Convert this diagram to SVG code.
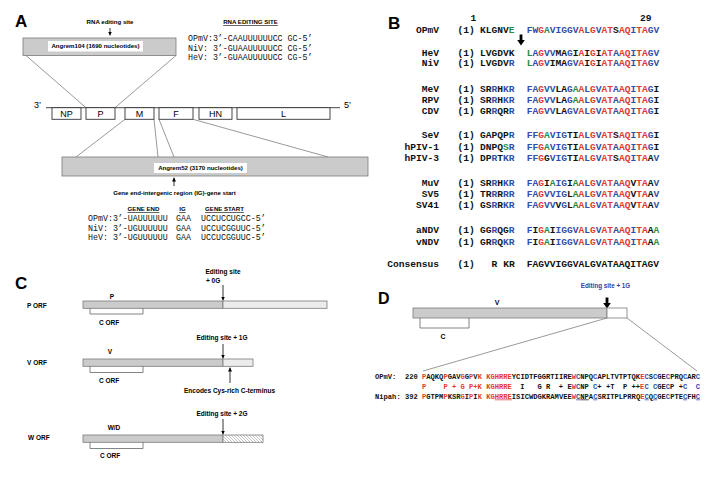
<svg xmlns="http://www.w3.org/2000/svg" width="723" height="489" viewBox="0 0 723 489">
<defs>
<style>
.lbl{font-family:"Liberation Sans",Arial,sans-serif;font-weight:bold;fill:#000}
.pl{font-size:17px}
.sm{font-size:6.1px}
.c6{font-size:6.5px}
.gn{font-family:"Liberation Sans",Arial,sans-serif;font-size:9px;fill:#000}
.mono{font-family:"Liberation Mono","Courier New",monospace;fill:#111}
.sqA{font-size:8.3px}
.sqB{font-size:9.6px;font-weight:bold}
.sqD{font-size:7.13px;font-weight:bold;white-space:pre}
.r{fill:#e23a2e}.b{fill:#2f4fa8}.g{fill:#2b8c3f}.k{fill:#111}
.u{text-decoration:underline}
.gray{fill:#cbcbcb;stroke:#7a7a7a;stroke-width:0.8}
.light{fill:#ececec;stroke:#7a7a7a;stroke-width:0.8}
.white{fill:#fff;stroke:#7a7a7a;stroke-width:0.8}
.hatch{fill:url(#hatch);stroke:#7a7a7a;stroke-width:0.8}
.wlab{fill:#fff}
.gene{fill:#fff;stroke:#333;stroke-width:0.9}
.ln{stroke:#555;stroke-width:0.6;fill:none}
.br{stroke:#666;stroke-width:0.8;fill:none}
.arr{stroke:#000;stroke-width:0.8;fill:none;marker-end:url(#ah)}
</style>
<marker id="ah" viewBox="0 0 6 6" refX="6" refY="3" markerWidth="4" markerHeight="4" orient="auto" markerUnits="userSpaceOnUse"><path d="M0,0 L6,3 L0,6 z" fill="#000"/></marker>
<pattern id="hatch" width="3" height="3" patternUnits="userSpaceOnUse"><rect width="3" height="3" fill="#fff"/><path d="M0,0 L3,3 M-1,2 L1,4 M2,-1 L4,1" stroke="#888" stroke-width="0.5"/></pattern>
<path id="big" d="M-1.4,0 H1.4 V5.5 H3.8 L0,11 L-3.8,5.5 H-1.4 Z" fill="#000"/>
</defs>
<rect width="723" height="489" fill="#fff"/>

<!-- connectors -->
<g id="connectors">
<line class="ln" x1="26" y1="55.5" x2="86" y2="107.7"/>
<line class="ln" x1="176" y1="55.5" x2="115" y2="107.7"/>
<line class="ln" x1="125" y1="119.3" x2="76" y2="157"/>
<line class="ln" x1="154" y1="119.3" x2="158" y2="157"/>
<line class="ln" x1="159" y1="119.3" x2="174" y2="157"/>
<line class="ln" x1="193" y1="119.3" x2="328" y2="157"/>
<line class="arr" x1="110" y1="28" x2="110" y2="35.5"/>
<line class="arr" x1="174" y1="186" x2="174" y2="177.5"/>
<line class="arr" x1="223" y1="285" x2="223" y2="300.5"/>
<line class="arr" x1="223" y1="344" x2="223" y2="358.5"/>
<line class="arr" x1="230" y1="383" x2="230" y2="367.5"/>
<line class="arr" x1="223" y1="419" x2="223" y2="434.5"/>
<line class="ln" x1="607" y1="318" x2="423" y2="371"/>
<line class="ln" x1="627" y1="318" x2="697" y2="371"/>
<use href="#big" x="521" y="34.5"/>
<use href="#big" x="607" y="297.5"/>
</g>

<!-- Panel A -->
<g id="panelA">
<text class="lbl pl" x="15" y="27">A</text>
<text class="lbl sm" x="110" y="24" text-anchor="middle">RNA editing site</text>
<g id="angrem104">
<rect class="gray" x="23" y="38" width="153" height="17.5"/>
<rect class="wlab" x="48" y="41" width="95" height="10.5"/>
<text class="lbl sm" x="95.5" y="48.4" text-anchor="middle">Angrem104 (1690 nucleotides)</text>
</g>
<text class="lbl sm u" x="250.5" y="24" text-anchor="middle">RNA EDITING SITE</text>
<g class="mono sqA">
<text x="188" y="40.5">OPmV:3’-CAAUUUUUUCC GC-5’</text>
<text x="188" y="50.5">NiV: 3’-GUAAUUUUUCC CG-5’</text>
<text x="188" y="60">HeV: 3’-GUAAUUUUUCC CG-5’</text>
</g>
<g id="genome">
<text class="gn" x="34" y="108">3’</text>
<text class="gn" x="344" y="108">5’</text>
<line x1="46" y1="107.7" x2="340" y2="107.7" stroke="#333" stroke-width="0.9"/>
<g id="gNP"><rect class="gene" x="52" y="107.7" width="29" height="11.6"/><text class="gn" x="66.5" y="116.8" text-anchor="middle">NP</text></g>
<g id="gP"><rect class="gene" x="86" y="107.7" width="29" height="11.6"/><text class="gn" x="100.5" y="116.8" text-anchor="middle">P</text></g>
<g id="gM"><rect class="gene" x="125" y="107.7" width="29" height="11.6"/><text class="gn" x="139.5" y="116.8" text-anchor="middle">M</text></g>
<g id="gF"><rect class="gene" x="159" y="107.7" width="34" height="11.6"/><text class="gn" x="176" y="116.8" text-anchor="middle">F</text></g>
<g id="gHN"><rect class="gene" x="199" y="107.7" width="33" height="11.6"/><text class="gn" x="215.5" y="116.8" text-anchor="middle">HN</text></g>
<g id="gL"><rect class="gene" x="237" y="107.7" width="93" height="11.6"/><text class="gn" x="283.5" y="116.8" text-anchor="middle">L</text></g>
</g>
<g id="angrem52">
<rect class="gray" x="62" y="157" width="306" height="19"/>
<rect class="wlab" x="154" y="163" width="93" height="10"/>
<text class="lbl sm" x="200.5" y="170.3" text-anchor="middle">Angrem52 (3170 nucleotides)</text>
</g>
<text class="lbl sm" x="174.5" y="195" text-anchor="middle">Gene end-intergenic region (IG)-gene start</text>
<text class="lbl sm u" x="143.5" y="211" text-anchor="middle">GENE END</text>
<text class="lbl sm u" x="182.5" y="211" text-anchor="middle">IG</text>
<text class="lbl sm u" x="224.5" y="211" text-anchor="middle">GENE START</text>
<g class="mono sqA">
<text x="88" y="221">OPmV:3’-UAUUUUUU</text><text x="176" y="221">GAA</text><text x="201" y="221">UCCUCCUGCC-5’</text>
<text x="88" y="230.5">NiV: 3’-UGUUUUUU</text><text x="176" y="230.5">GAA</text><text x="201" y="230.5">UCCUCGGUUC-5’</text>
<text x="88" y="240">HeV: 3’-UGUUUUUU</text><text x="176" y="240">GAA</text><text x="201" y="240">UCCUCGGUUC-5’</text>
</g>
</g>

<!-- Panel B -->
<g id="panelB" class="mono sqB">
<text class="lbl pl" x="388" y="29">B</text>
<text x="470.5" y="21">1</text>
<text x="640" y="21">29</text>
<g id="rOPmV"><text x="439" y="33" text-anchor="end">OPmV</text><text x="457.5" y="33">(1)</text><text x="480" y="33"><tspan class="k">KLGNV</tspan><tspan class="g">E</tspan></text><text x="526.7" y="33"><tspan class="b">FW</tspan><tspan class="r">G</tspan><tspan class="g">A</tspan><tspan class="b">VIGGV</tspan><tspan class="r">A</tspan><tspan class="b">L</tspan><tspan class="r">G</tspan><tspan class="b">V</tspan><tspan class="r">AT</tspan><tspan class="k">S</tspan><tspan class="r">AQ</tspan><tspan class="b">I</tspan><tspan class="r">TA</tspan><tspan class="b">GV</tspan></text></g>
<g id="rHeV"><text x="439" y="56" text-anchor="end">HeV</text><text x="457.5" y="56">(1)</text><text x="480" y="56">LVGDVK</text><text x="526.7" y="56"><tspan class="g">L</tspan><tspan class="b">A</tspan><tspan class="r">G</tspan><tspan class="b">VV</tspan><tspan class="k">MA</tspan><tspan class="b">G</tspan><tspan class="k">I</tspan><tspan class="r">A</tspan><tspan class="k">I</tspan><tspan class="r">G</tspan><tspan class="k">I</tspan><tspan class="r">AT</tspan><tspan class="b">A</tspan><tspan class="r">AQ</tspan><tspan class="b">I</tspan><tspan class="r">TA</tspan><tspan class="b">GV</tspan></text></g>
<g id="rNiV"><text x="439" y="66.3" text-anchor="end">NiV</text><text x="457.5" y="66.3">(1)</text><text x="480" y="66.3"><tspan class="k">LVGDV</tspan><tspan class="b">R</tspan></text><text x="526.7" y="66.3"><tspan class="g">L</tspan><tspan class="b">A</tspan><tspan class="r">G</tspan><tspan class="b">V</tspan><tspan class="k">IMA</tspan><tspan class="b">GV</tspan><tspan class="r">A</tspan><tspan class="k">I</tspan><tspan class="r">G</tspan><tspan class="k">I</tspan><tspan class="r">AT</tspan><tspan class="b">A</tspan><tspan class="r">AQ</tspan><tspan class="b">I</tspan><tspan class="r">TA</tspan><tspan class="b">GV</tspan></text></g>
<g id="rMeV"><text x="439" y="91.5" text-anchor="end">MeV</text><text x="457.5" y="91.5">(1)</text><text x="480" y="91.5"><tspan class="k">SR</tspan><tspan class="b">R</tspan><tspan class="k">H</tspan><tspan class="b">KR</tspan></text><text x="526.7" y="91.5"><tspan class="b">FA</tspan><tspan class="r">G</tspan><tspan class="b">VV</tspan><tspan class="k">LA</tspan><tspan class="b">G</tspan><tspan class="g">A</tspan><tspan class="r">A</tspan><tspan class="b">L</tspan><tspan class="r">G</tspan><tspan class="b">V</tspan><tspan class="r">AT</tspan><tspan class="b">A</tspan><tspan class="r">AQ</tspan><tspan class="b">I</tspan><tspan class="r">TA</tspan><tspan class="b">G</tspan><tspan class="k">I</tspan></text></g>
<g id="rRPV"><text x="439" y="102.8" text-anchor="end">RPV</text><text x="457.5" y="102.8">(1)</text><text x="480" y="102.8"><tspan class="k">SR</tspan><tspan class="b">R</tspan><tspan class="k">H</tspan><tspan class="b">KR</tspan></text><text x="526.7" y="102.8"><tspan class="b">FA</tspan><tspan class="r">G</tspan><tspan class="b">VV</tspan><tspan class="k">LA</tspan><tspan class="b">G</tspan><tspan class="g">A</tspan><tspan class="r">A</tspan><tspan class="b">L</tspan><tspan class="r">G</tspan><tspan class="b">V</tspan><tspan class="r">AT</tspan><tspan class="b">A</tspan><tspan class="r">AQ</tspan><tspan class="b">I</tspan><tspan class="r">TA</tspan><tspan class="b">G</tspan><tspan class="k">I</tspan></text></g>
<g id="rCDV"><text x="439" y="114" text-anchor="end">CDV</text><text x="457.5" y="114">(1)</text><text x="480" y="114"><tspan class="k">GR</tspan><tspan class="b">R</tspan><tspan class="k">QR</tspan><tspan class="b">R</tspan></text><text x="526.7" y="114"><tspan class="b">FA</tspan><tspan class="r">G</tspan><tspan class="b">VV</tspan><tspan class="k">LA</tspan><tspan class="b">GV</tspan><tspan class="r">A</tspan><tspan class="b">L</tspan><tspan class="r">G</tspan><tspan class="b">V</tspan><tspan class="r">AT</tspan><tspan class="b">A</tspan><tspan class="r">AQ</tspan><tspan class="b">I</tspan><tspan class="r">TA</tspan><tspan class="b">G</tspan><tspan class="k">I</tspan></text></g>
<g id="rSeV"><text x="439" y="138.2" text-anchor="end">SeV</text><text x="457.5" y="138.2">(1)</text><text x="480" y="138.2"><tspan class="k">GAPQP</tspan><tspan class="b">R</tspan></text><text x="526.7" y="138.2"><tspan class="b">FF</tspan><tspan class="r">G</tspan><tspan class="g">A</tspan><tspan class="b">VIG</tspan><tspan class="k">TI</tspan><tspan class="r">A</tspan><tspan class="b">L</tspan><tspan class="r">G</tspan><tspan class="b">V</tspan><tspan class="r">AT</tspan><tspan class="k">S</tspan><tspan class="r">AQ</tspan><tspan class="b">I</tspan><tspan class="r">TA</tspan><tspan class="b">G</tspan><tspan class="k">I</tspan></text></g>
<g id="rhPIV1"><text x="439" y="149.5" text-anchor="end">hPIV-1</text><text x="457.5" y="149.5">(1)</text><text x="480" y="149.5"><tspan class="k">DNPQ</tspan><tspan class="g">S</tspan><tspan class="b">R</tspan></text><text x="526.7" y="149.5"><tspan class="b">FF</tspan><tspan class="r">G</tspan><tspan class="g">A</tspan><tspan class="b">VIG</tspan><tspan class="k">TI</tspan><tspan class="r">A</tspan><tspan class="b">L</tspan><tspan class="r">G</tspan><tspan class="b">V</tspan><tspan class="r">AT</tspan><tspan class="b">A</tspan><tspan class="r">AQ</tspan><tspan class="b">I</tspan><tspan class="r">TA</tspan><tspan class="b">G</tspan><tspan class="k">I</tspan></text></g>
<g id="rhPIV3"><text x="439" y="160.8" text-anchor="end">hPIV-3</text><text x="457.5" y="160.8">(1)</text><text x="480" y="160.8"><tspan class="k">DP</tspan><tspan class="b">R</tspan><tspan class="k">T</tspan><tspan class="b">KR</tspan></text><text x="526.7" y="160.8"><tspan class="b">FF</tspan><tspan class="r">G</tspan><tspan class="k">G</tspan><tspan class="b">VIG</tspan><tspan class="k">TI</tspan><tspan class="r">A</tspan><tspan class="b">L</tspan><tspan class="r">G</tspan><tspan class="b">V</tspan><tspan class="r">AT</tspan><tspan class="k">S</tspan><tspan class="r">AQ</tspan><tspan class="b">I</tspan><tspan class="r">TA</tspan><tspan class="k">A</tspan><tspan class="b">V</tspan></text></g>
<g id="rMuV"><text x="439" y="185.5" text-anchor="end">MuV</text><text x="457.5" y="185.5">(1)</text><text x="480" y="185.5"><tspan class="k">SR</tspan><tspan class="b">R</tspan><tspan class="k">H</tspan><tspan class="b">KR</tspan></text><text x="526.7" y="185.5"><tspan class="b">FA</tspan><tspan class="r">G</tspan><tspan class="k">I</tspan><tspan class="g">A</tspan><tspan class="b">IG</tspan><tspan class="k">I</tspan><tspan class="g">A</tspan><tspan class="r">A</tspan><tspan class="b">L</tspan><tspan class="r">G</tspan><tspan class="b">V</tspan><tspan class="r">AT</tspan><tspan class="b">A</tspan><tspan class="r">AQ</tspan><tspan class="k">V</tspan><tspan class="r">TA</tspan><tspan class="k">A</tspan><tspan class="b">V</tspan></text></g>
<g id="rSV5"><text x="439" y="196.8" text-anchor="end">SV5</text><text x="457.5" y="196.8">(1)</text><text x="480" y="196.8"><tspan class="k">TR</tspan><tspan class="b">R</tspan><tspan class="k">R</tspan><tspan class="b">RR</tspan></text><text x="526.7" y="196.8"><tspan class="b">FA</tspan><tspan class="r">G</tspan><tspan class="b">VVIG</tspan><tspan class="k">L</tspan><tspan class="g">A</tspan><tspan class="r">A</tspan><tspan class="b">L</tspan><tspan class="r">G</tspan><tspan class="b">V</tspan><tspan class="r">AT</tspan><tspan class="b">A</tspan><tspan class="r">AQ</tspan><tspan class="k">V</tspan><tspan class="r">TA</tspan><tspan class="k">A</tspan><tspan class="b">V</tspan></text></g>
<g id="rSV41"><text x="439" y="208" text-anchor="end">SV41</text><text x="457.5" y="208">(1)</text><text x="480" y="208"><tspan class="k">GS</tspan><tspan class="b">R</tspan><tspan class="k">R</tspan><tspan class="b">KR</tspan></text><text x="526.7" y="208"><tspan class="b">FA</tspan><tspan class="r">G</tspan><tspan class="b">VV</tspan><tspan class="k">V</tspan><tspan class="b">G</tspan><tspan class="k">L</tspan><tspan class="g">A</tspan><tspan class="r">A</tspan><tspan class="b">L</tspan><tspan class="r">G</tspan><tspan class="b">V</tspan><tspan class="r">AT</tspan><tspan class="b">A</tspan><tspan class="r">AQ</tspan><tspan class="k">V</tspan><tspan class="r">TA</tspan><tspan class="k">A</tspan><tspan class="b">V</tspan></text></g>
<g id="raNDV"><text x="439" y="233.2" text-anchor="end">aNDV</text><text x="457.5" y="233.2">(1)</text><text x="480" y="233.2"><tspan class="k">GG</tspan><tspan class="b">R</tspan><tspan class="k">QG</tspan><tspan class="b">R</tspan></text><text x="526.7" y="233.2"><tspan class="b">F</tspan><tspan class="k">I</tspan><tspan class="r">G</tspan><tspan class="g">A</tspan><tspan class="k">I</tspan><tspan class="b">IGGV</tspan><tspan class="r">A</tspan><tspan class="b">L</tspan><tspan class="r">G</tspan><tspan class="b">V</tspan><tspan class="r">AT</tspan><tspan class="b">A</tspan><tspan class="r">AQ</tspan><tspan class="b">I</tspan><tspan class="r">TA</tspan><tspan class="k">A</tspan><tspan class="g">A</tspan></text></g>
<g id="rvNDV"><text x="439" y="244.8" text-anchor="end">vNDV</text><text x="457.5" y="244.8">(1)</text><text x="480" y="244.8"><tspan class="k">GR</tspan><tspan class="b">R</tspan><tspan class="k">Q</tspan><tspan class="b">KR</tspan></text><text x="526.7" y="244.8"><tspan class="b">F</tspan><tspan class="k">I</tspan><tspan class="r">G</tspan><tspan class="g">A</tspan><tspan class="k">I</tspan><tspan class="b">IGGV</tspan><tspan class="r">A</tspan><tspan class="b">L</tspan><tspan class="r">G</tspan><tspan class="b">V</tspan><tspan class="r">AT</tspan><tspan class="b">A</tspan><tspan class="r">AQ</tspan><tspan class="b">I</tspan><tspan class="r">TA</tspan><tspan class="k">A</tspan><tspan class="g">A</tspan></text></g>
<g id="rCons"><text x="439" y="266.5" text-anchor="end">Consensus</text><text x="457.5" y="266.5">(1)</text><text x="491.6" y="266.5">R</text><text x="503.2" y="266.5">KR</text><text x="526.7" y="266.5">FAGVVIGGVALGVATAAQITAGV</text></g>
</g>

<!-- Panel C -->
<g id="panelC">
<text class="lbl pl" x="15" y="289">C</text>
<text class="lbl c6" x="223" y="274" text-anchor="middle">Editing site</text>
<text class="lbl c6" x="206" y="283">+ 0G</text>
<g id="pORF">
<text class="lbl c6" x="27" y="307.5">P ORF</text>
<text class="lbl c6" x="112" y="299" text-anchor="middle">P</text>
<rect class="gray" x="83" y="301" width="140" height="7.3"/>
<rect class="light" x="223" y="301" width="104" height="7.3"/>
<path class="br" d="M90,308.3 V314 H143 V308.3"/>
<text class="lbl c6" x="109" y="325" text-anchor="middle">C ORF</text>
</g>
<text class="lbl c6" x="222" y="340" text-anchor="middle">Editing site + 1G</text>
<g id="vORF">
<text class="lbl c6" x="27" y="365">V ORF</text>
<text class="lbl c6" x="110" y="354" text-anchor="middle">V</text>
<rect class="gray" x="83" y="359" width="140" height="7.3"/>
<rect class="light" x="223" y="359" width="30" height="7.3"/>
<path class="br" d="M90,366.3 V372.5 H143 V366.3"/>
<text class="lbl c6" x="109" y="382.5" text-anchor="middle">C ORF</text>
</g>
<text class="lbl c6" x="229.5" y="392.5" text-anchor="middle">Encodes Cys-rich C-terminus</text>
<text class="lbl c6" x="222" y="415.5" text-anchor="middle">Editing site + 2G</text>
<g id="wORF">
<text class="lbl c6" x="28" y="440">W ORF</text>
<text class="lbl c6" x="114" y="429.5" text-anchor="middle">W/D</text>
<rect class="gray" x="83" y="435" width="140" height="7.3"/>
<rect class="hatch" x="223" y="435" width="40" height="7.3"/>
<path class="br" d="M90,442.3 V448.5 H143 V442.3"/>
<text class="lbl c6" x="110" y="458" text-anchor="middle">C ORF</text>
</g>
</g>

<!-- Panel D -->
<g id="panelD">
<text class="lbl" style="font-size:16px" x="378" y="303.5">D</text>
<text class="lbl" style="font-size:6.3px;fill:#3b3b9b" x="605.5" y="288" text-anchor="middle">Editing site + 1G</text>
<g id="dBar">
<text class="lbl" style="font-size:7px" x="497" y="305" text-anchor="middle">V</text>
<rect class="gray" x="413" y="308" width="194" height="10"/>
<rect class="white" x="607" y="308" width="20" height="10"/>
<path class="br" d="M420,318 V328 H469 V318"/>
<text class="lbl" style="font-size:7px" x="443" y="339" text-anchor="middle">C</text>
</g>
<g id="dSeq" class="mono sqD">
<text x="375" y="378.5">OPmV:</text><text x="405" y="378.5">220</text>
<text x="422" y="378.5" xml:space="preserve"><tspan class="r">P</tspan><tspan class="k">AQKQ</tspan><tspan class="r">P</tspan><tspan class="k">GAV</tspan><tspan class="r">G</tspan><tspan class="k">G</tspan><tspan class="r">P</tspan><tspan class="k">V</tspan><tspan class="r">K KGHRRE</tspan><tspan class="k">YCIDTFGGRTIIRE</tspan><tspan class="r">W</tspan><tspan class="b">C</tspan><tspan class="k">NPQ</tspan><tspan class="b">C</tspan><tspan class="k">APLTVTPTQK</tspan><tspan class="r">E</tspan><tspan class="b">C</tspan><tspan class="k">S</tspan><tspan class="b">C</tspan><tspan class="k">GE</tspan><tspan class="b">C</tspan><tspan class="k">PRQ</tspan><tspan class="b">C</tspan><tspan class="k">AR</tspan><tspan class="b">C</tspan></text>
<text x="422" y="388.5" xml:space="preserve"><tspan class="r">P    P + G P+K KGHRRE</tspan><tspan class="k">  I   G R  + E</tspan><tspan class="r">W</tspan><tspan class="b">C</tspan><tspan class="k">NP </tspan><tspan class="b">C</tspan><tspan class="k">+ +T  P ++</tspan><tspan class="r">E</tspan><tspan class="b">C</tspan><tspan class="k"> </tspan><tspan class="b">C</tspan><tspan class="k">GE</tspan><tspan class="b">C</tspan><tspan class="k">P +</tspan><tspan class="b">C</tspan><tspan class="k">  </tspan><tspan class="b">C</tspan></text>
<text x="375" y="398.5">Nipah:</text><text x="405" y="398.5">392</text>
<text x="422" y="398.5" xml:space="preserve"><tspan class="r">P</tspan><tspan class="k">GTPM</tspan><tspan class="r">P</tspan><tspan class="k">KSR</tspan><tspan class="r">G</tspan><tspan class="k">I</tspan><tspan class="r">P</tspan><tspan class="k">I</tspan><tspan class="r">K KG</tspan><tspan class="r u">HRRE</tspan><tspan class="k">ISICWDGKRAMVEE</tspan><tspan class="r">W</tspan><tspan class="b u">C</tspan><tspan class="k u">NP</tspan><tspan class="k">A</tspan><tspan class="b u">C</tspan><tspan class="k">SRITPLPRRQ</tspan><tspan class="r">E</tspan><tspan class="b u">C</tspan><tspan class="k">Q</tspan><tspan class="b u">C</tspan><tspan class="k">GE</tspan><tspan class="b">C</tspan><tspan class="k">PTE</tspan><tspan class="b u">C</tspan><tspan class="k">FH</tspan><tspan class="b u">C</tspan></text>
</g>
</g>
</svg>
